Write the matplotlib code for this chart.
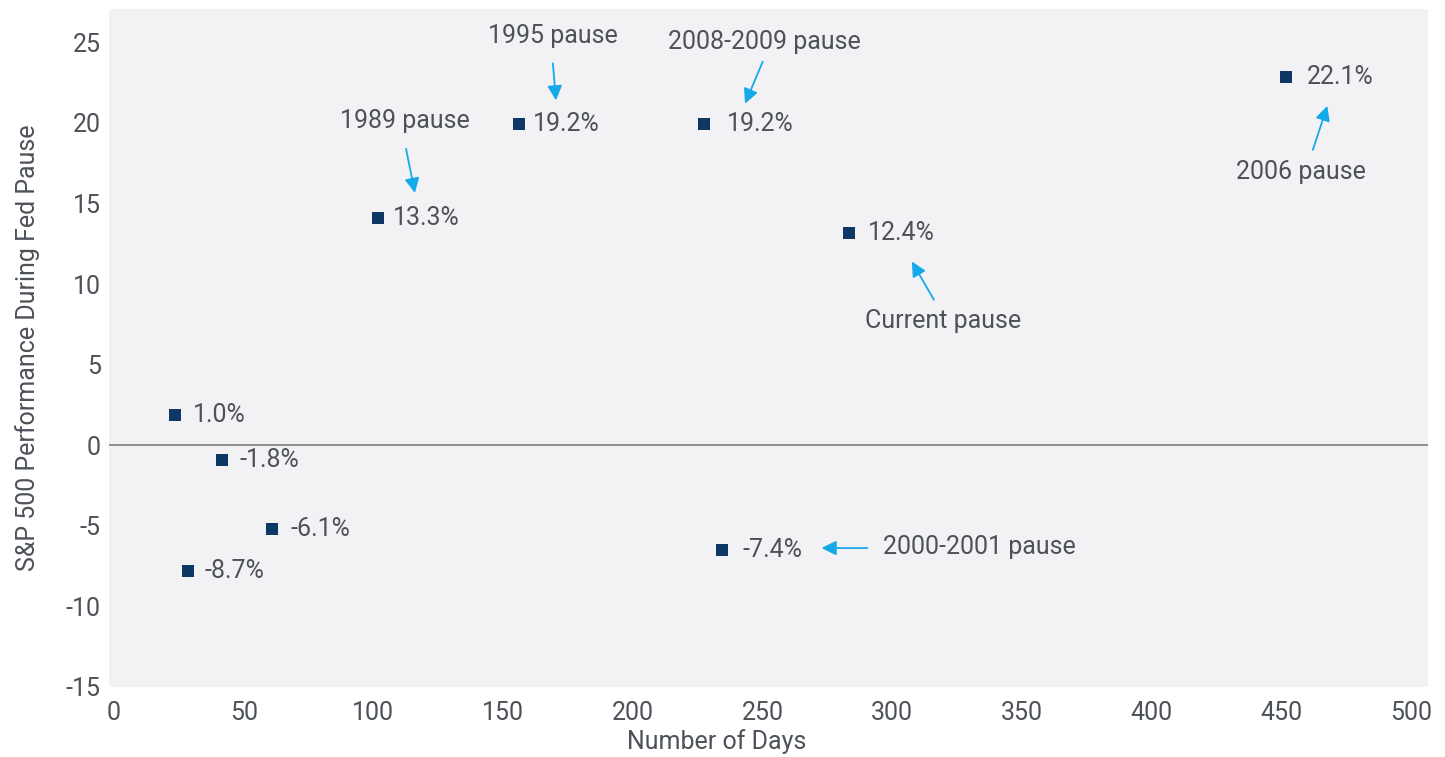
import numpy as np
import matplotlib
matplotlib.use('Agg')
import matplotlib.pyplot as plt

plt.rcParams['font.family'] = ['Roboto', 'DejaVu Sans']
plt.rcParams['axes.unicode_minus'] = False

# days of pause vs S&P 500 move (marker positions)
days = [23.5, 41.6, 60.9, 28.5, 101.7, 156.2, 227.5, 234.6, 283.2, 451.7]
perf = [1.85, -0.93, -5.2, -7.8, 14.1, 19.96, 19.96, -6.5, 13.2, 22.86]
val_labels = ['1.0%', '-1.8%', '-6.1%', '-8.7%', '13.3%', '19.2%', '19.2%',
              '-7.4%', '12.4%', '22.1%']
lab_dx = [18, 18, 19, 17, 15, 14, 23, 20, 19, 21]   # pixels right of marker

# pause names: text centre, arrow start, arrow tip (data coords)
pause_names = ['1989 pause', '1995 pause', '2008-2009 pause', 'Current pause',
               '2006 pause', '2000-2001 pause']
name_xy = [(112.2, 20.1), (169.2, 25.4), (250.9, 25.0), (319.6, 7.68),
           (457.6, 16.97), (334.9, -6.32)]
arr_from = [(112.6, 18.4), (169.2, 23.7), (250.1, 23.8), (316.1, 9.03),
            (462.2, 18.33), (290.5, -6.38)]
arr_to = [(116.0, 15.66), (170.4, 21.4), (243.3, 21.2), (307.6, 11.40),
          (467.8, 21.06), (272.8, -6.38)]

txt_col = '#4d5259'
navy = '#0d3864'
blue = '#15a9ea'

fig = plt.figure(figsize=(14.45, 7.57), dpi=100)
ax = fig.add_axes([109/1445, 1-687/757, (1428-109)/1445, (687-9)/757])
ax.set_facecolor('#f2f2f4')
for s in ax.spines.values():
    s.set_visible(False)

ax.axhline(0, color='#7d7d7d', lw=1.2, zorder=1)
ax.scatter(days, perf, marker='s', s=74, color=navy, zorder=3, linewidths=0)

for x, y, t, dx in zip(days, perf, val_labels, lab_dx):
    ax.annotate(t, (x, y), xytext=(dx, 0), textcoords='offset pixels',
                ha='left', va='center', fontsize=18, color=txt_col)

for t, (tx, ty), p0, p1 in zip(pause_names, name_xy, arr_from, arr_to):
    ha = 'left' if t.startswith('2000') else 'center'
    if ha == 'left':
        tx = tx - 38.6
    ax.text(tx, ty, t, ha=ha, va='center', fontsize=18, color=txt_col)
    ax.annotate('', xy=p1, xytext=p0,
                arrowprops=dict(arrowstyle='-|>', color=blue, lw=1.3,
                                mutation_scale=22, shrinkA=0, shrinkB=0))

ax.set_xlim(-1.93, 506.6)
ax.set_ylim(-15, 27.07)
ax.set_xticks(np.arange(0, 501, 50))
ax.set_yticks(np.arange(-15, 26, 5))
ax.tick_params(length=0, labelsize=18, labelcolor=txt_col)
ax.tick_params(axis='x', pad=10)
ax.tick_params(axis='y', pad=6)

ax.set_xlabel('Number of Days', fontsize=18, color=txt_col, labelpad=2)
ax.xaxis.set_label_coords((717-109)/1319, -0.062)
ax.set_ylabel('S&P 500 Performance During Fed Pause', fontsize=18, color=txt_col)
ax.yaxis.set_label_coords(-0.052, 0.5)

fig.savefig('out.png', dpi=100)
